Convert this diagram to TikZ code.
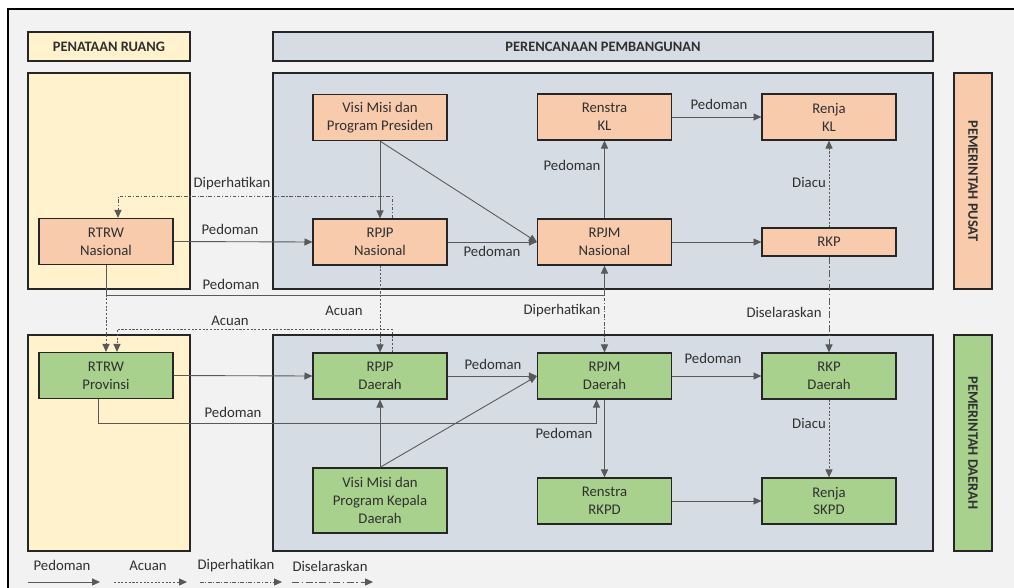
\documentclass[tikz,border=0pt]{standalone}
\usepackage{fontspec}
\setmainfont{Carlito}
\usepackage{xcolor}
\definecolor{frameGray}{HTML}{F2F2F2}
\definecolor{ruangYellow}{HTML}{FFF2CC}
\definecolor{panelBlue}{HTML}{D6DCE4}
\definecolor{pusatOrange}{HTML}{F8CBAD}
\definecolor{daerahGreen}{HTML}{A9D18E}
\definecolor{lineGray}{HTML}{595959}
\definecolor{textGray}{HTML}{303030}
\usepackage{tikz}
\usetikzlibrary{arrows.meta,positioning,calc}

\tikzset{
  box/.style={draw=black!85,line width=0.7pt,minimum width=2.68cm,minimum height=0.92cm,
              inner sep=0pt,align=center,text=textGray},
  pusatbox/.style={box,fill=pusatOrange},
  daerahbox/.style={box,fill=daerahGreen},
  panel/.style={draw=black!85,line width=0.7pt},
  headbox/.style={draw=black!85,line width=0.7pt,inner sep=0pt,minimum height=0.58cm,
                  font=\fontsize{8.2}{10}\selectfont\bfseries,text=textGray},
  sidebox/.style={headbox,rotate=-90,minimum width=4.32cm,minimum height=0.76cm},
  lbl/.style={inner sep=1pt,text=textGray},
  pedoman/.style={draw=lineGray,line width=0.5pt,-{Triangle[length=4.5pt,width=4pt]}},
  acuan/.style={pedoman,dash pattern=on 1.2pt off 0.9pt},
  diperhatikan/.style={pedoman,dash pattern=on 2pt off 1pt on 0.6pt off 1pt},
  diselaraskan/.style={pedoman,dash pattern=on 4pt off 1.5pt on 0.8pt off 1.5pt}
}

\begin{document}
\begin{tikzpicture}[x=0.02cm,y=-0.02cm,font=\fontsize{8.4}{10.2}\selectfont]
  \useasboundingbox (0,0) rectangle (1014,588);
  \draw[fill=frameGray,draw=black,line width=0.8pt] (8,9) rectangle (1040,610);

  % headers and panels
  \node[headbox,fill=ruangYellow,minimum width=3.24cm] (hRuang) at (109,46.5) {PENATAAN RUANG};
  \node[headbox,fill=panelBlue,minimum width=13.2cm] (hBangun) at (603,46.5) {PERENCANAAN PEMBANGUNAN};
  \draw[panel,fill=ruangYellow] (28,73) rectangle (190,289);
  \draw[panel,fill=panelBlue] (273,73) rectangle (933,289);
  \draw[panel,fill=ruangYellow] (28,335) rectangle (190,551);
  \draw[panel,fill=panelBlue] (273,335) rectangle (933,551);
  \node[sidebox,fill=pusatOrange] (sPusat) at (973,181) {PEMERINTAH PUSAT};
  \node[sidebox,fill=daerahGreen] (sDaerah) at (973,443) {PEMERINTAH DAERAH};

  % pemerintah pusat
  \node[pusatbox] (rtrwN) at (106,241.5) {RTRW\\Nasional};
  \node[pusatbox] (visiP) at (380,117.5) {Visi Misi dan\\Program Presiden};
  \node[pusatbox] (rpjpN) at (380,242) {RPJP\\Nasional};
  \node[pusatbox] (rpjmN) at (604.5,242) {RPJM\\Nasional};
  \node[pusatbox] (renstraKL) at (604.5,117) {Renstra\\KL};
  \node[pusatbox] (renjaKL) at (829,117) {Renja\\KL};
  \node[pusatbox,minimum height=0.56cm] (rkp) at (829,242) {RKP};

  % pemerintah daerah
  \node[daerahbox] (rtrwP) at (106,375.5) {RTRW\\Provinsi};
  \node[daerahbox] (rpjpD) at (380,376) {RPJP\\Daerah};
  \node[daerahbox] (rpjmD) at (604.5,376) {RPJM\\Daerah};
  \node[daerahbox] (rkpD) at (829,376) {RKP\\Daerah};
  \node[daerahbox,minimum height=1.3cm] (visiKD) at (380,500.5) {Visi Misi dan\\Program Kepala\\Daerah};
  \node[daerahbox] (renstraD) at (604.5,501) {Renstra\\RKPD};
  \node[daerahbox] (renjaD) at (829,501) {Renja\\SKPD};

  % connectors, pusat
  \draw[pedoman] (visiP.south) -- (rpjpN.north);
  \draw[pedoman] (visiP.south) -- (rpjmN.west);
  \draw[pedoman] (rtrwN.east) -- (rpjpN.west);
  \draw[pedoman] (rpjpN.east) -- (rpjmN.west);
  \draw[pedoman] (rpjmN.north) -- (renstraKL.south);
  \draw[pedoman] (renstraKL.east) -- (renjaKL.west);
  \draw[pedoman] (rpjmN.east) -- (rkp.west);
  \draw[acuan] (rkp.north) -- (renjaKL.south);
  \draw[diperhatikan] ($(rpjpN.north)+(12,0)$) -- ++(0,-22) -| ($(rtrwN.north)+(12,0)$);
  \draw[pedoman] (rtrwN.south) -- ++(0,30) -| (rpjmN.south);

  % connectors, pusat to daerah
  \draw[acuan] (rtrwN.south) -- (rtrwP.north);
  \draw[acuan] (rpjpN.south) -- (rpjpD.north);
  \draw[diperhatikan] (rpjmN.south) -- (rpjmD.north);
  \draw[diselaraskan] (rkp.south) -- (rkpD.north);

  % connectors, daerah
  \draw[acuan] ($(rpjpD.north)+(12,0)$) -- ++(0,-23) -| ($(rtrwP.north)+(11,0)$);
  \draw[pedoman] (rtrwP.east) -- (rpjpD.west);
  \draw[pedoman] ($(rtrwP.south)+(-8,0)$) -- ++(0,24) -| ($(rpjmD.south)+(-8,0)$);
  \draw[pedoman] (rpjpD.east) -- (rpjmD.west);
  \draw[pedoman] (visiKD.north) -- (rpjpD.south);
  \draw[pedoman] (visiKD.north) -- (rpjmD.west);
  \draw[pedoman] (rpjmD.east) -- (rkpD.west);
  \draw[pedoman] (rpjmD.south) -- (renstraD.north);
  \draw[pedoman] (renstraD.east) -- (renjaD.west);
  \draw[acuan] (rkpD.south) -- (renjaD.north);

  % labels
  \node[lbl] (tDiperN) at (232,184) {Diperhatikan};
  \node[lbl] (tPedRtrwN) at (230,229) {Pedoman};
  \node[lbl] (tPedRpjpN) at (492,251) {Pedoman};
  \node[lbl] (tPedRenstraKL) at (572,165) {Pedoman};
  \node[lbl] (tPedRenjaKL) at (719,104) {Pedoman};
  \node[lbl] (tDiacuKL) at (809,182) {Diacu};
  \node[lbl] (tPedRpjmN) at (231,284) {Pedoman};
  \node[lbl] (tAcuanRpjp) at (344,311) {Acuan};
  \node[lbl] (tAcuanRtrwP) at (230,321) {Acuan};
  \node[lbl] (tDiperRpjm) at (562,311) {Diperhatikan};
  \node[lbl] (tSelaras) at (784,312) {Diselaraskan};
  \node[lbl] (tPedRpjpD) at (493,364) {Pedoman};
  \node[lbl] (tPedRkpD) at (713,358) {Pedoman};
  \node[lbl] (tPedRtrwP) at (233,412) {Pedoman};
  \node[lbl] (tPedRenstraD) at (564,433) {Pedoman};
  \node[lbl] (tDiacuD) at (809,423) {Diacu};

  % legend
  \node[lbl] (legPed) at (62,565) {Pedoman};
  \node[lbl] (legAcu) at (148,566) {Acuan};
  \node[lbl] (legDiper) at (236,566) {Diperhatikan};
  \node[lbl] (legSelaras) at (330,566) {Diselaraskan};
  \coordinate (legPedA) at (28,582);   \coordinate (legPedB) at (100,582);
  \coordinate (legAcuA) at (114,582);  \coordinate (legAcuB) at (187,582);
  \coordinate (legDiperA) at (200,582); \coordinate (legDiperB) at (282,582);
  \coordinate (legSelA) at (292,582);  \coordinate (legSelB) at (373,582);
  \draw[pedoman] (legPedA) -- (legPedB);
  \draw[acuan] (legAcuA) -- (legAcuB);
  \draw[diperhatikan] (legDiperA) -- (legDiperB);
  \draw[diselaraskan] (legSelA) -- (legSelB);
\end{tikzpicture}
\end{document}
